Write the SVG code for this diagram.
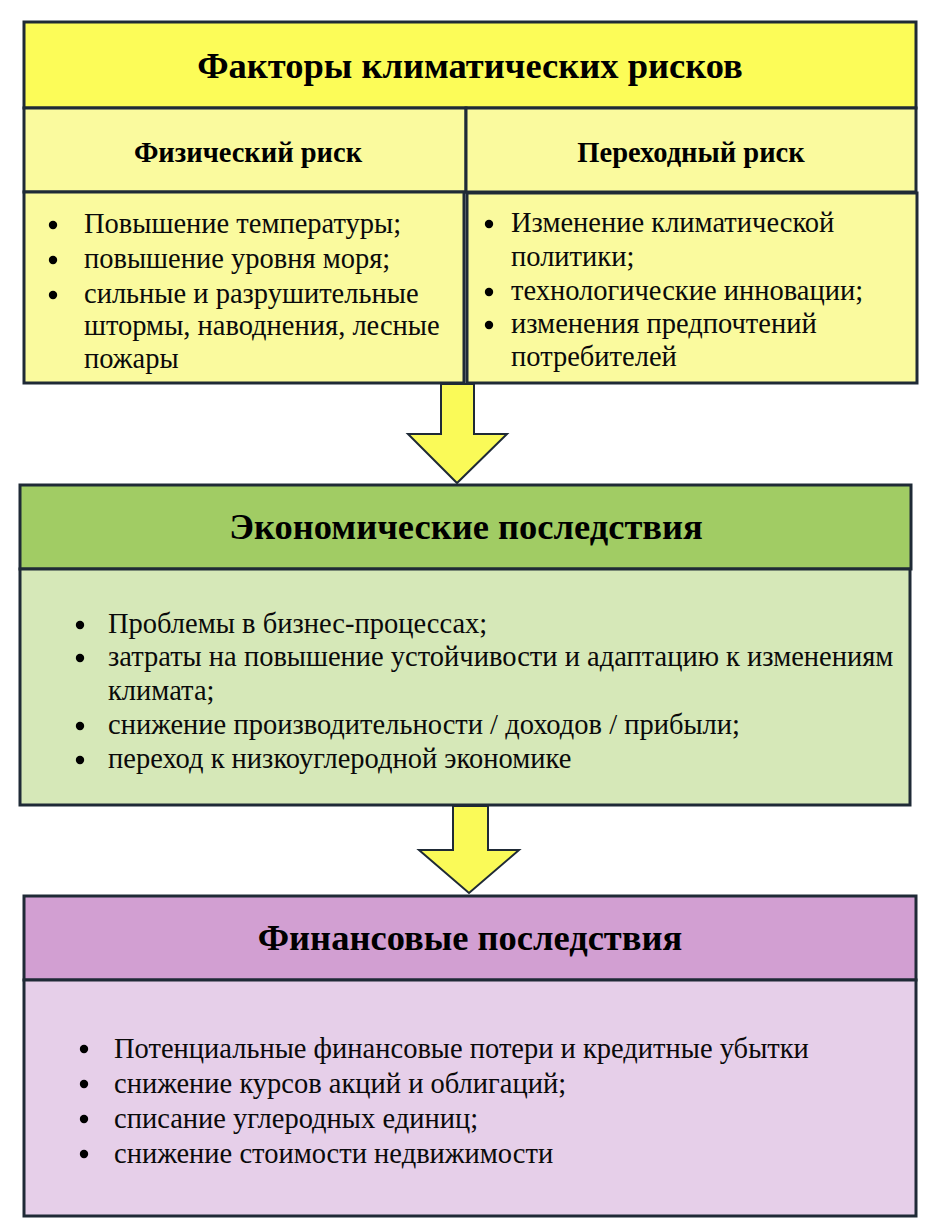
<svg xmlns="http://www.w3.org/2000/svg" width="946" height="1232" viewBox="0 0 946 1232">
<defs>
<style>
.b{stroke:#1f2a36;stroke-width:3}
.t{font-weight:bold;fill:#000;text-anchor:middle}
.h1{font-size:36.5px}
.h2{font-size:28.5px}
.tx{font-size:28.5px;fill:#0a0a0a}
.dot{fill:#000}
.arr{fill:#fafa58;stroke:#1f2a36;stroke-width:2;stroke-linejoin:miter}
</style>
</defs>
<rect width="946" height="1232" fill="#fff"/>
<g font-family="Liberation Serif, Times New Roman, serif">
<g id="node-factors">
<rect class="b" x="24" y="22" width="892" height="86" fill="#fcfc58"/>
<text class="t h1" x="470" y="78">Факторы климатических рисков</text>
</g>

<g id="node-physical-head">
<rect class="b" x="24" y="108" width="442" height="84" fill="#fafa9e"/>
<text class="t h2" x="248" y="162">Физический риск</text>
</g>

<g id="node-transition-head">
<rect class="b" x="466" y="108" width="450" height="84" fill="#fafa9e"/>
<text class="t h2" x="691" y="162">Переходный риск</text>
</g>

<g id="node-physical-body">
<rect class="b" x="24" y="192" width="440" height="191" fill="#fafa9e"/>
<circle class="dot" cx="53" cy="225" r="4.2"/>
<circle class="dot" cx="53" cy="260" r="4.2"/>
<circle class="dot" cx="53" cy="295" r="4.2"/>
<text class="tx" x="84" y="233">Повышение температуры;</text>
<text class="tx" x="84" y="268">повышение уровня моря;</text>
<text class="tx" x="84" y="303">сильные и разрушительные</text>
<text class="tx" x="84" y="335">штормы, наводнения, лесные</text>
<text class="tx" x="84" y="368">пожары</text>
</g>

<g id="node-transition-body">
<rect class="b" x="467" y="193" width="450" height="190" fill="#fafa9e"/>
<circle class="dot" cx="489" cy="224" r="4.2"/>
<circle class="dot" cx="489" cy="292" r="4.2"/>
<circle class="dot" cx="489" cy="325" r="4.2"/>
<text class="tx" x="511" y="232">Изменение климатической</text>
<text class="tx" x="511" y="266">политики;</text>
<text class="tx" x="511" y="300">технологические инновации;</text>
<text class="tx" x="511" y="333">изменения предпочтений</text>
<text class="tx" x="511" y="366">потребителей</text>
</g>

<g id="node-economic">
<rect class="b" x="20" y="485" width="891" height="84" fill="#a1cc64"/>
<text class="t h1" x="466" y="539">Экономические последствия</text>
<rect class="b" x="20" y="569" width="890" height="236" fill="#d6e8b8"/>
<circle class="dot" cx="80" cy="625" r="4.2"/>
<circle class="dot" cx="80" cy="658" r="4.2"/>
<circle class="dot" cx="80" cy="726" r="4.2"/>
<circle class="dot" cx="80" cy="760" r="4.2"/>
<text class="tx" x="108" y="633">Проблемы в бизнес-процессах;</text>
<text class="tx" x="108" y="666">затраты на повышение устойчивости и адаптацию к изменениям</text>
<text class="tx" x="108" y="700">климата;</text>
<text class="tx" x="108" y="734">снижение производительности / доходов / прибыли;</text>
<text class="tx" x="108" y="768">переход к низкоуглеродной экономике</text>
</g>

<g id="node-financial">
<rect class="b" x="24" y="896" width="892" height="84" fill="#d29fd2"/>
<text class="t h1" x="470" y="950">Финансовые последствия</text>
<rect class="b" x="24" y="980" width="892" height="236" fill="#e6cfe9"/>
<circle class="dot" cx="84" cy="1049" r="4.2"/>
<circle class="dot" cx="84" cy="1084" r="4.2"/>
<circle class="dot" cx="84" cy="1119" r="4.2"/>
<circle class="dot" cx="84" cy="1154" r="4.2"/>
<text class="tx" x="114" y="1058">Потенциальные финансовые потери и кредитные убытки</text>
<text class="tx" x="114" y="1093">снижение курсов акций и облигаций;</text>
<text class="tx" x="114" y="1128">списание углеродных единиц;</text>
<text class="tx" x="114" y="1163">снижение стоимости недвижимости</text>
</g>
</g>
<g id="connectors">
<polygon class="arr" points="441,384 474,384 474,434 507,434 457,483 408,434 441,434"/>
<polygon class="arr" points="453,806 488,806 488,850 519,850 469,893 419,850 453,850"/>
</g>
</svg>
